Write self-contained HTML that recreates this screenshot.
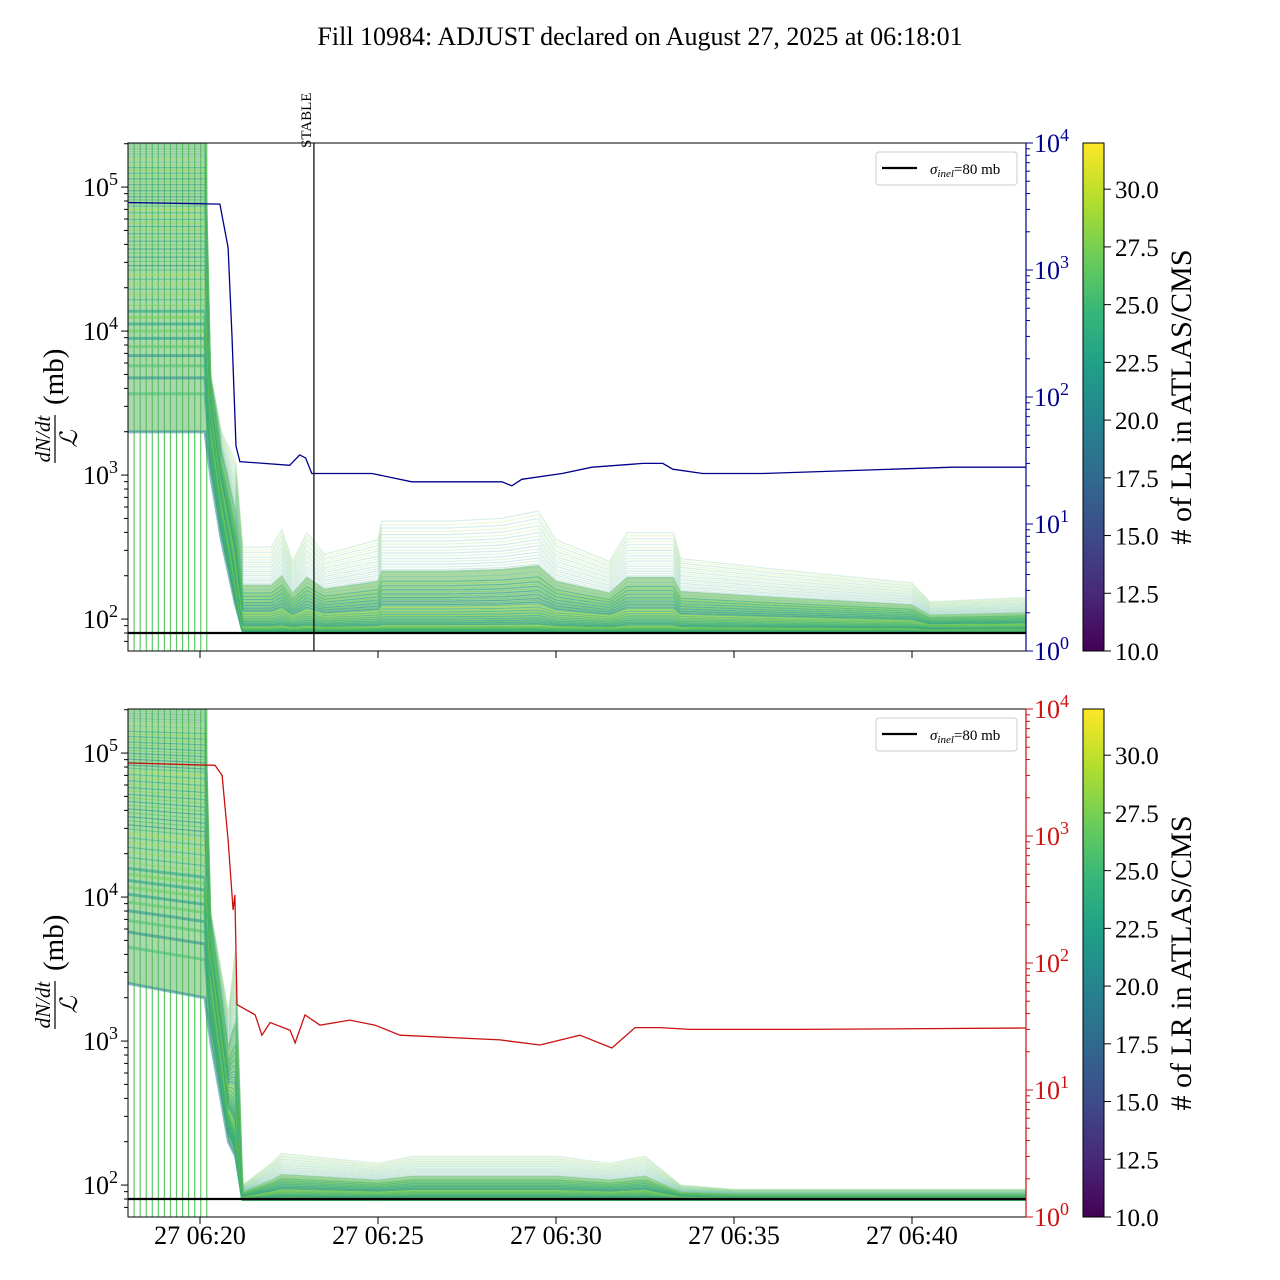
<!DOCTYPE html>
<html><head><meta charset="utf-8"><style>
body{margin:0;background:#fff;}
svg{display:block;font-family:"Liberation Serif","DejaVu Serif",serif;}
</style></head><body>
<svg id="chart" width="1280" height="1280" viewBox="0 0 1280 1280">
<text x="640" y="45" font-size="26" text-anchor="middle">Fill 10984: ADJUST declared on August 27, 2025 at 06:18:01</text>
</svg>
<script>
// ---------- DATA ----------
const xTickMinutes = [20, 25, 30, 35, 40];
const xTickLabels = ["27 06:20", "27 06:25", "27 06:30", "27 06:35", "27 06:40"];
const stableMinute = 23.20;
const sigmaInel = 80;
const cbTicks = [10.0, 12.5, 15.0, 17.5, 20.0, 22.5, 25.0, 27.5, 30.0];
// top panel: right-axis blue series (minutes after 06:00, value)
const blueT = [17.98,20.56,20.79,20.90,21.01,21.12,22.52,22.80,22.97,23.14,24.83,25.95,28.48,28.76,29.04,30.17,31.01,32.44,33.00,33.28,34.12,35.81,41.15,43.28];
const blueV = [3400,3300,1500,300,41,31,29,35,33,25,25,21.5,21.5,20,22.5,25,28,30,30,27,25,25,28,28];
// bottom panel: right-axis red series
const redT = [17.98,20.42,20.62,20.79,20.93,20.98,21.04,21.55,21.74,21.97,22.53,22.67,22.95,23.37,24.21,24.92,25.62,28.43,29.55,30.67,31.57,32.22,32.92,33.76,36.85,43.28];
const redV = [3760,3600,3000,930,261,343,47,39,27,34,29.5,23.5,39,32.4,35.5,32.4,27,24.8,22.6,27,21.4,31,31,30,30,30.8];
// green luminous-region envelopes (log10 of dN/dt/L in mb)
const topEnvT = [17.98,20.14,20.30,20.60,21.00,21.20,22.00,22.30,22.60,23.00,23.50,25.00,25.10,27.00,28.50,29.50,30.00,30.50,31.50,32.00,33.30,33.50,36.00,40.00,40.50,43.28];
const topLow  = [3.3,3.3,3.0,2.55,2.1,1.92,1.92,1.92,1.92,1.92,1.92,1.92,1.92,1.92,1.92,1.92,1.92,1.92,1.92,1.92,1.92,1.92,1.92,1.92,1.92,1.92];
const topHigh = [5.5,5.5,3.7,3.3,3.1,2.5,2.5,2.62,2.4,2.6,2.45,2.55,2.68,2.68,2.7,2.75,2.55,2.5,2.4,2.6,2.6,2.42,2.35,2.25,2.12,2.15];
const botEnvT = [17.98,20.14,20.30,20.80,21.00,21.20,22.00,22.30,25.00,26.00,30.00,31.50,32.50,33.50,35.00,43.28];
const botLow  = [3.4,3.3,3.0,2.3,2.2,1.9,1.9,1.9,1.9,1.9,1.9,1.9,1.9,1.9,1.9,1.9];
const botHigh = [5.5,5.5,3.9,3.2,3.65,2.0,2.15,2.22,2.15,2.2,2.2,2.15,2.2,2.0,1.97,1.97];
const spikeMinutes = [18.15,18.32,18.49,18.66,18.83,19.00,19.17,19.34,19.51,19.68,19.85,20.02,20.19];

// ---------- SCALES ----------
const X0=128, X1=1026;
const xs = m => 200 + (m-20)*35.6;
const panels = [
  {top:143, bot:651, color:"#00008b", t:blueT, v:blueV, envT:topEnvT, lo:topLow, hi:topHigh, name:"top", stable:true, xlabels:false},
  {top:709, bot:1217, color:"#cc1111", t:redT, v:redV, envT:botEnvT, lo:botLow, hi:botHigh, name:"bottom", stable:false, xlabels:true}
];
const NS="http://www.w3.org/2000/svg";
const svg=document.getElementById('chart');
function el(tag, attrs, parent){const e=document.createElementNS(NS,tag);for(const k in attrs)e.setAttribute(k,attrs[k]);(parent||svg).appendChild(e);return e;}
function interp(ts, vs, t){ if(t<=ts[0])return vs[0]; for(let i=1;i<ts.length;i++){ if(t<=ts[i]){const f=(t-ts[i-1])/(ts[i]-ts[i-1]);return vs[i-1]+f*(vs[i]-vs[i-1]);} } return vs[vs.length-1]; }
const vir=[[68,1,84],[72,40,120],[62,74,137],[49,104,142],[38,130,142],[31,158,137],[53,183,121],[109,205,89],[180,222,44],[253,231,37]];
function viridis(f){f=Math.max(0,Math.min(1,f));const p=f*(vir.length-1);const i=Math.min(vir.length-2,Math.floor(p));const r=p-i;const c=vir[i].map((a,k)=>Math.round(a+r*(vir[i+1][k]-a)));return `rgb(${c[0]},${c[1]},${c[2]})`;}
function sup(parent,x,y,base,exp,color,anchor,name){
  const t=el('text',{x:x,y:y,'font-size':26,fill:color,'text-anchor':anchor},parent);
  
  
  t.textContent=base;
  const s=el('tspan',{dy:-11,'font-size':18},t);s.textContent=exp;
}
const wEarly = m => m<=20.3?1:(m>=21.2?0:(21.2-m)/0.9);

panels.forEach((P)=>{
  const H=P.bot-P.top;
  const ly = lg => P.top + (5.306-lg)*144;
  const ry = v => P.top + (4-Math.log10(v))*(H/4);
  const g=el('g',{});
  
  
  const clipId='clip'+P.name;
  const cp=el('clipPath',{id:clipId},g); el('rect',{x:X0,y:P.top,width:X1-X0,height:H},cp);
  const plot=el('g',{'clip-path':`url(#${clipId})`},g);
  spikeMinutes.forEach(m=>{
    const l=el('line',{x1:xs(m),x2:xs(m),y1:P.top,y2:P.bot,stroke:'#5ec962','stroke-width':1.2},plot);
    
    
  });
  const tSamples=[];for(let m=17.98;m<=43.3;m+=0.08)tSamples.push(m);
  P.envT.forEach(m=>{tSamples.push(m-0.01,m+0.01);});tSamples.sort((a,b)=>a-b);
  // fill
  let dF='';
  tSamples.forEach((m,k)=>{const lo=interp(P.envT,P.lo,m),hi=interp(P.envT,P.hi,m);const w=wEarly(m);dF+=(k?'L':'M')+xs(m).toFixed(1)+','+ly(lo+(hi-lo)*(w+(1-w)*0.55)).toFixed(1);});
  for(let k=tSamples.length-1;k>=0;k--){const m=tSamples[k];dF+='L'+xs(m).toFixed(1)+','+ly(interp(P.envT,P.lo,m)).toFixed(1);}
  const fill=el('path',{d:dF+'Z',fill:'#62b86a','fill-opacity':0.55},plot);
  
  
  const N=70;
  for(let i=0;i<N;i++){
    const q=i/(N-1);
    let d='';
    tSamples.forEach((m,k)=>{const lo=interp(P.envT,P.lo,m),hi=interp(P.envT,P.hi,m);const w=wEarly(m);const f=w*Math.pow(q,0.5)+(1-w)*Math.pow(q,2.2);const y=ly(lo+(hi-lo)*f);d+=(k?'L':'M')+xs(m).toFixed(1)+','+y.toFixed(1);});
    const cval=((i*37)%N)/N;
    const p=el('path',{d:d,fill:'none',stroke:viridis(0.45+0.45*cval),'stroke-width':q<0.15?3:1.2,'stroke-opacity':q>0.7?0.2:0.55},plot);
    
    
  }
  const sy=ly(Math.log10(sigmaInel));
  const sl=el('line',{x1:X0,x2:X1,y1:sy,y2:sy,stroke:'#000','stroke-width':2.2},plot);
  
  
  let d='';P.t.forEach((m,k)=>{d+=(k?'L':'M')+xs(m).toFixed(1)+','+ry(P.v[k]).toFixed(1);});
  const rl=el('path',{d:d,fill:'none',stroke:P.color,'stroke-width':1.3},plot);
  
  
  if(P.stable){
    const sx=xs(stableMinute);
    const st=el('line',{x1:sx,x2:sx,y1:P.top,y2:P.bot,stroke:'#000','stroke-width':1.2},g);
    
    
    const tx=el('text',{x:0,y:0,'font-size':15,transform:`translate(${sx-3},148) rotate(-90)`},g);
    
    
    tx.textContent='STABLE';
  }
  el('rect',{x:X0,y:P.top,width:X1-X0,height:H,fill:'none',stroke:'#000','stroke-width':1},g);
  el('line',{x1:X1,x2:X1,y1:P.top,y2:P.bot,stroke:P.color,'stroke-width':1.2},g);
  for(let e=1;e<=5;e++){for(let k=1;k<10;k++){const y=ly(e+Math.log10(k));if(y<P.top||y>P.bot)continue;el('line',{x1:X0,x2:X0-(k==1?7:4),y1:y,y2:y,stroke:'#000'},g);}}
  [2,3,4,5].forEach(e=>sup(g,118,ly(e)+9,'10',String(e),'#000','end','left-tick-label'));
  for(let e=0;e<=4;e++){sup(g,1034,ry(Math.pow(10,e))+9,'10',String(e),P.color,'start','right-tick-label');
    for(let k=1;k<10&&e<4;k++){const y=ry(k*Math.pow(10,e));el('line',{x1:X1,x2:X1+(k==1?7:4),y1:y,y2:y,stroke:P.color},g);}
    if(e==4)el('line',{x1:X1,x2:X1+7,y1:ry(1e4),y2:ry(1e4),stroke:P.color},g);}
  xTickMinutes.forEach((m,i)=>{el('line',{x1:xs(m),x2:xs(m),y1:P.bot,y2:P.bot+7,stroke:'#000'},g);
    if(P.xlabels){const t=el('text',{x:xs(m),y:1244,'font-size':26,'text-anchor':'middle'},g);
      
      
      t.textContent=xTickLabels[i];}});
  const yt=el('g',{transform:`translate(58,${P.top+254}) rotate(-90)`},g);
  
  
  const n=el('text',{x:-42,y:-8,'font-size':21,'font-style':'italic','text-anchor':'middle'},yt);n.textContent='dN/dt';
  el('line',{x1:-66,x2:-18,y1:-3,y2:-3,stroke:'#000','stroke-width':1.2},yt);
  const dn=el('text',{x:-42,y:19,'font-size':24,'font-style':'italic','text-anchor':'middle'},yt);dn.textContent='ℒ';
  const mb=el('text',{x:-8,y:5,'font-size':29},yt);mb.textContent='(mb)';
  const lg=el('g',{},g);
  
  
  el('rect',{x:876,y:P.top+9,width:141,height:33,rx:3,fill:'#fff',stroke:'#ccc'},lg);
  el('line',{x1:882,x2:917,y1:P.top+25,y2:P.top+25,stroke:'#000','stroke-width':2.2},lg);
  const lt=el('text',{x:930,y:P.top+31,'font-size':15},lg);
  const s1=el('tspan',{'font-style':'italic'},lt);s1.textContent='σ';
  const s2=el('tspan',{'font-style':'italic','font-size':11,dy:3},lt);s2.textContent='inel';
  const s3=el('tspan',{dy:-3},lt);s3.textContent='=80 mb';
  const cb=el('g',{},g);
  
  
  const gid='grad'+P.name;
  const lgd=el('linearGradient',{id:gid,x1:0,y1:1,x2:0,y2:0},cb);
  vir.forEach((c,i)=>el('stop',{offset:i/(vir.length-1),'stop-color':`rgb(${c})`},lgd));
  el('rect',{x:1083,y:P.top,width:21,height:H,fill:`url(#${gid})`,stroke:'#000'},cb);
  const cy=v=>P.bot-(v-10)/22*H;
  cbTicks.forEach(v=>{el('line',{x1:1104,x2:1111,y1:cy(v),y2:cy(v),stroke:'#000'},cb);
    const t=el('text',{x:1115,y:cy(v)+9,'font-size':25},cb);t.textContent=v.toFixed(1);});
  const ct=el('text',{x:0,y:0,'font-size':30,'text-anchor':'middle',transform:`translate(1191,${P.top+254}) rotate(-90)`},cb);
  
  
  ct.textContent='# of LR in ATLAS/CMS';
});
</script>
</body></html>
